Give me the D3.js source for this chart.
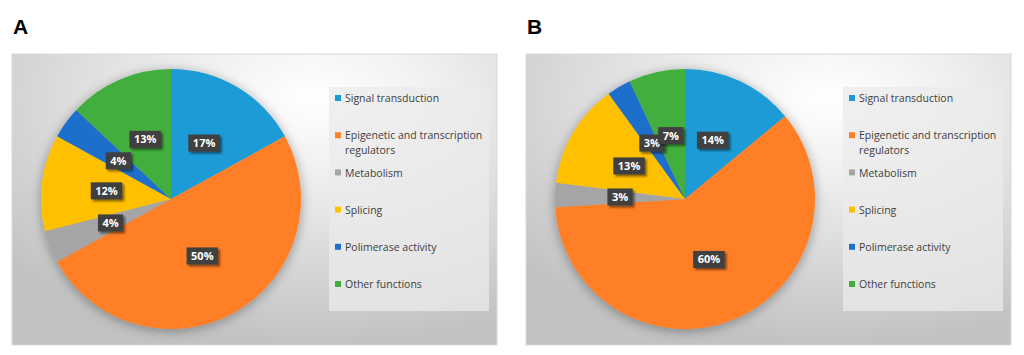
<!DOCTYPE html>
<html lang="en">
<head>
<meta charset="utf-8">
<title>Pie charts A and B</title>
<script src="https://d3js.org/d3.v7.min.js"></script>
<style>
  body { margin: 0; background: #fff; }
  .legend text { font-family: "Open Sans", sans-serif; font-size: 10.5px; fill: #404040; }
  .lbl text { font-family: "Open Sans", sans-serif; font-size: 11px; font-weight: bold; fill: #fff; }
  .panel-title { font-family: "Liberation Sans", Arial, sans-serif; font-size: 21px; font-weight: bold; fill: #000; }
</style>
</head>
<body>
<div id="chart"></div>
<script>
// categories and values (percent)
var categories = ["Signal transduction", "Epigenetic and transcription regulators", "Metabolism",
                  "Splicing", "Polimerase activity", "Other functions"];
var legendLines = [["Signal transduction"], ["Epigenetic and transcription", "regulators"], ["Metabolism"],
                   ["Splicing"], ["Polimerase activity"], ["Other functions"]];
var valuesA = [17, 50, 4, 12, 4, 13];
var valuesB = [14, 60, 3, 13, 3, 7];
var colors = ["#1a9bd7", "#ff7f27", "#a5a5a5", "#ffc000", "#1f6fcb", "#43ae3d"];
var panels = [
  { name: "A", values: valuesA },
  { name: "B", values: valuesB }
];

var W = 1024, H = 355;
var svg = d3.select("#chart").append("svg")
  .attr("width", W).attr("height", H);

var defs = svg.append("defs");
var grad = defs.append("radialGradient")
  .attr("id", "bg").attr("cx", "62%").attr("cy", "15%").attr("r", "85%");
grad.append("stop").attr("offset", "0%").attr("stop-color", "#ffffff");
grad.append("stop").attr("offset", "30%").attr("stop-color", "#f0f0f0");
grad.append("stop").attr("offset", "100%").attr("stop-color", "#c2c2c2");

var shadow = defs.append("filter").attr("id", "pieShadow")
  .attr("x", "-20%").attr("y", "-20%").attr("width", "140%").attr("height", "140%");
shadow.append("feGaussianBlur").attr("in", "SourceAlpha").attr("stdDeviation", 6).attr("result", "b");
shadow.append("feOffset").attr("in", "b").attr("dx", 0).attr("dy", 2).attr("result", "o");
shadow.append("feComponentTransfer").attr("in", "o").attr("result", "s")
  .append("feFuncA").attr("type", "linear").attr("slope", 0.35);
var m1 = shadow.append("feMerge");
m1.append("feMergeNode").attr("in", "s");
m1.append("feMergeNode").attr("in", "SourceGraphic");

var lblShadow = defs.append("filter").attr("id", "lblShadow")
  .attr("x", "-30%").attr("y", "-30%").attr("width", "170%").attr("height", "170%");
lblShadow.append("feGaussianBlur").attr("in", "SourceAlpha").attr("stdDeviation", 1).attr("result", "b");
lblShadow.append("feOffset").attr("in", "b").attr("dx", 2).attr("dy", 2).attr("result", "o");
lblShadow.append("feComponentTransfer").attr("in", "o").attr("result", "s")
  .append("feFuncA").attr("type", "linear").attr("slope", 0.5);
var m2 = lblShadow.append("feMerge");
m2.append("feMergeNode").attr("in", "s");
m2.append("feMergeNode").attr("in", "SourceGraphic");

// layout of one panel
var panelX = d3.scaleOrdinal().domain(["A", "B"]).range([12, 526]);
var boxY = 54, boxW = 485, boxH = 291;
var radius = 130, cx = 159, cy = 145;
var legendY = d3.scaleLinear().domain([0, 5]).range([44, 230]);

var pie = d3.pie().sort(null).value(function(d) { return d; });
var arc = d3.arc().innerRadius(0).outerRadius(radius);
var color = d3.scaleOrdinal().domain(categories).range(colors);

panels.forEach(function(p) {
  var x0 = panelX(p.name);

  svg.append("text")
    .attr("class", "panel-title")
    .attr("x", x0 + 1).attr("y", 34)
    .text(p.name);

  var g = svg.append("g").attr("transform", "translate(" + x0 + "," + boxY + ")");

  g.append("rect")
    .attr("width", boxW).attr("height", boxH)
    .attr("fill", "url(#bg)")
    .attr("stroke", "#d9d9d9").attr("stroke-width", 1);

  // pie
  var pg = g.append("g")
    .attr("transform", "translate(" + cx + "," + cy + ")");
  var arcs = pie(p.values).map(function(a, i) { a.cat = categories[i]; return a; });

  pg.append("g").attr("filter", "url(#pieShadow)")
    .selectAll("path")
    .data(arcs)
    .enter()
    .append("path")
      .attr("d", arc)
      .attr("fill", function(d) { return color(d.cat); });

  // data labels
  var lbl = pg.selectAll(".lbl")
    .data(arcs)
    .enter()
    .append("g")
      .attr("class", "lbl")
      .attr("transform", function(d) { var c = arc.centroid(d); return "translate(" + c[0] + "," + c[1] + ")"; });
  lbl.append("rect")
    .attr("fill", "#404040")
    .attr("filter", "url(#lblShadow)");
  lbl.append("text")
    .attr("text-anchor", "middle")
    .attr("dy", "0.36em")
    .text(function(d) { return d.data + "%"; });
  lbl.each(function() {
    var gg = d3.select(this);
    var w = gg.select("text").node().getComputedTextLength() + 9;
    gg.select("rect").attr("x", -w / 2).attr("y", -8.5).attr("width", w).attr("height", 17);
  });

  // legend
  var lg = g.append("g").attr("class", "legend")
    .attr("transform", "translate(317,33)");
  lg.append("rect")
    .attr("width", 160).attr("height", 224)
    .attr("fill", "#ebebeb").attr("fill-opacity", 0.75);

  var items = lg.selectAll(".item")
    .data(categories)
    .enter()
    .append("g")
      .attr("class", "item")
      .attr("transform", function(d, i) { return "translate(0," + (legendY(i) - 33) + ")"; });
  items.append("rect")
    .attr("x", 6).attr("y", -3).attr("width", 6).attr("height", 6)
    .attr("fill", function(d) { return color(d); });
  items.append("text")
    .attr("x", 16)
    .selectAll("tspan")
    .data(function(d, i) { return legendLines[i]; })
    .enter()
    .append("tspan")
      .attr("x", 16)
      .attr("dy", function(d, j) { return j === 0 ? "0.4em" : 15; })
      .text(function(d) { return d; });
});
</script>
</body>
</html>
